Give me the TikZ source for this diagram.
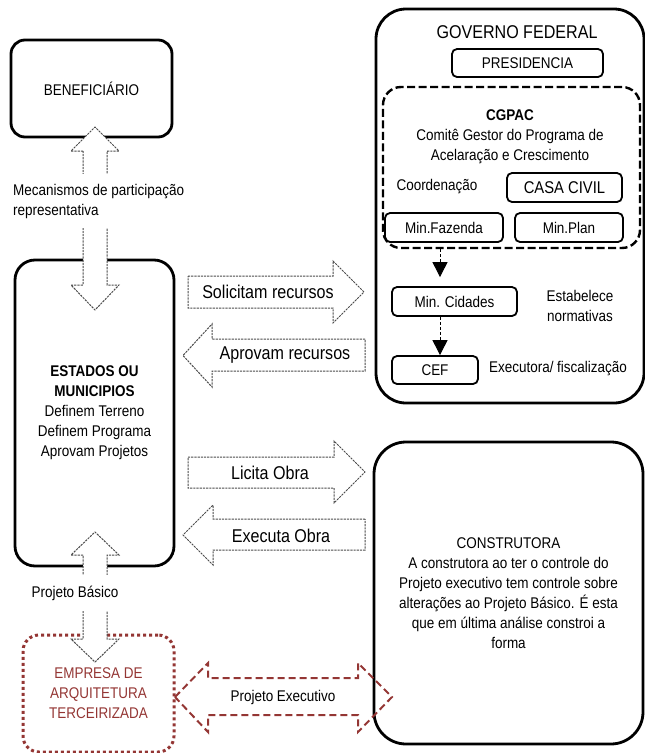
\documentclass[tikz,border=0pt]{standalone}
\usepackage{fontspec}
\setmainfont[FakeStretch=0.87]{Liberation Sans}
\usetikzlibrary{arrows.meta}
\definecolor{brick}{RGB}{148,54,52}

\begin{document}
\begin{tikzpicture}[x=1pt, y=-1pt,
  every node/.style={font=\fontsize{15.5}{20}\selectfont, align=center},
  biglabel/.style={font=\fontsize{18.5}{22}\selectfont},
  bigbox/.style={draw, line width=2.8pt, rounded corners=#1},
  smallbox/.style={draw, line width=1.8pt, rounded corners=5pt, inner sep=0pt},
  cgpacbox/.style={draw, line width=2.4pt, dash pattern=on 8pt off 3.5pt, rounded corners=18pt},
  firmbox/.style={draw=brick, text=brick, line width=3pt, dash pattern=on 3pt off 3pt, rounded corners=16pt},
  blockarrow/.style={draw=black!70, fill=white, line width=1pt, dash pattern=on 2.2pt off 1pt},
  redarrow/.style={draw=brick, line width=2pt, dash pattern=on 7pt off 4pt},
  flow/.style={line width=0.9pt, dash pattern=on 3pt off 2pt, -{Triangle[width=15pt,length=15pt]}}]
\useasboundingbox (0,0) rectangle (645,753);

% main boxes
\node [bigbox=14pt, minimum width=161pt, minimum height=97pt] (benef) at (91.5,88.5) {BENEFICIÁRIO};
\node [bigbox=20pt, minimum width=159pt, minimum height=306pt] (estados) at (94.5,413)
  {\textbf{ESTADOS OU}\\\textbf{MUNICIPIOS}\\Definem Terreno\\Definem Programa\\Aprovam Projetos};
\node [bigbox=30pt, minimum width=268pt, minimum height=394pt] (gov) at (510,206) {};
\node [bigbox=32pt, minimum width=269pt, minimum height=302pt] (constr) at (508.5,593)
  {CONSTRUTORA\\A construtora ao ter o controle do\\Projeto executivo tem controle sobre\\alterações ao Projeto Básico. É esta\\que em última análise constroi a\\forma};
\node [firmbox, minimum width=151pt, minimum height=117pt] (empresa) at (98.5,693.5)
  {EMPRESA DE\\ARQUITETURA\\TERCEIRIZADA};

% governo federal
\node [biglabel] (govtitle) at (517,32) {GOVERNO FEDERAL};
\node [smallbox, minimum width=151pt, minimum height=28pt] (presid) at (527.5,63) {PRESIDENCIA};
\node [cgpacbox, minimum width=257pt, minimum height=161pt] (cgpac) at (511.5,167.5) {};
\node (cgpactext) at (510,137) {\textbf{CGPAC}\\Comitê Gestor do Programa de\\Acelaração e Crescimento};
\node (coord) at (437,187) {Coordenação};
\node [smallbox, minimum width=115pt, minimum height=29pt, font=\fontsize{17}{20}\selectfont] (casa) at (564.5,187.5) {CASA CIVIL};
\node [smallbox, minimum width=118pt, minimum height=29pt] (fazenda) at (444,227.5) {Min.Fazenda};
\node [smallbox, minimum width=108pt, minimum height=29pt] (plan) at (569,227.5) {Min.Plan};
\node [smallbox, minimum width=125pt, minimum height=29pt] (minc) at (454.5,301.5) {Min. Cidades};
\node [smallbox, minimum width=86pt, minimum height=28pt] (cef) at (435,370) {CEF};
\node (normas) at (580,305.5) {Estabelece\\normativas};
\node (exec) at (558,369) {Executora/ fiscalização};

\draw [flow, shorten >=9pt] ([xshift=-14.5pt]minc.north |- cgpac.south) -- ([xshift=-14.5pt]minc.north);
\draw [flow] ([xshift=-14.5pt]minc.south) -- ([xshift=-14.5pt]minc.south |- cef.north);

% block arrows
\draw [blockarrow] (83,151) -- (71,151) -- (95,127) -- (119,151) -- (107,151) -- (107,285)
  -- (119,285) -- (95,310) -- (71,285) -- (83,285) -- cycle;
\node [fill=white, anchor=west, align=left, inner xsep=1pt, inner ysep=10pt] (mecan) at (12,201)
  {Mecanismos de participação\\representativa};

\draw [blockarrow] (83,555) -- (71,555) -- (95,532) -- (119,555) -- (107,555) -- (107,639)
  -- (119,639) -- (95,662) -- (71,639) -- (83,639) -- cycle;
\node [fill=white, inner ysep=11pt] (basico) at (75,593) {Projeto Básico};

\draw [blockarrow] (188,276) -- (333,276) -- (333,261) -- (364,292) -- (333,323) -- (333,308) -- (188,308) -- cycle;
\node [biglabel] (solicitam) at (268,292) {Solicitam recursos};

\draw [blockarrow] (365,339) -- (212,339) -- (212,324) -- (183,355.5) -- (212,387) -- (212,371) -- (365,371) -- cycle;
\node [biglabel] (aprovam) at (285,355) {Aprovam recursos};

\draw [blockarrow] (188,457) -- (334,457) -- (334,441) -- (365,472) -- (334,503) -- (334,488) -- (188,488) -- cycle;
\node [biglabel] (licita) at (270,473) {Licita Obra};

\draw [blockarrow] (365,519) -- (213,519) -- (213,505) -- (183,535) -- (213,565) -- (213,550) -- (365,550) -- cycle;
\node [biglabel] (executa) at (281,536) {Executa Obra};

\draw [redarrow] (175,697) -- (208,663) -- (208,678) -- (358,678) -- (358,663) -- (392,697)
  -- (358,732) -- (358,715) -- (208,715) -- (208,732) -- cycle;
\node (projexec) at (283,697) {Projeto Executivo};
\end{tikzpicture}
\end{document}
